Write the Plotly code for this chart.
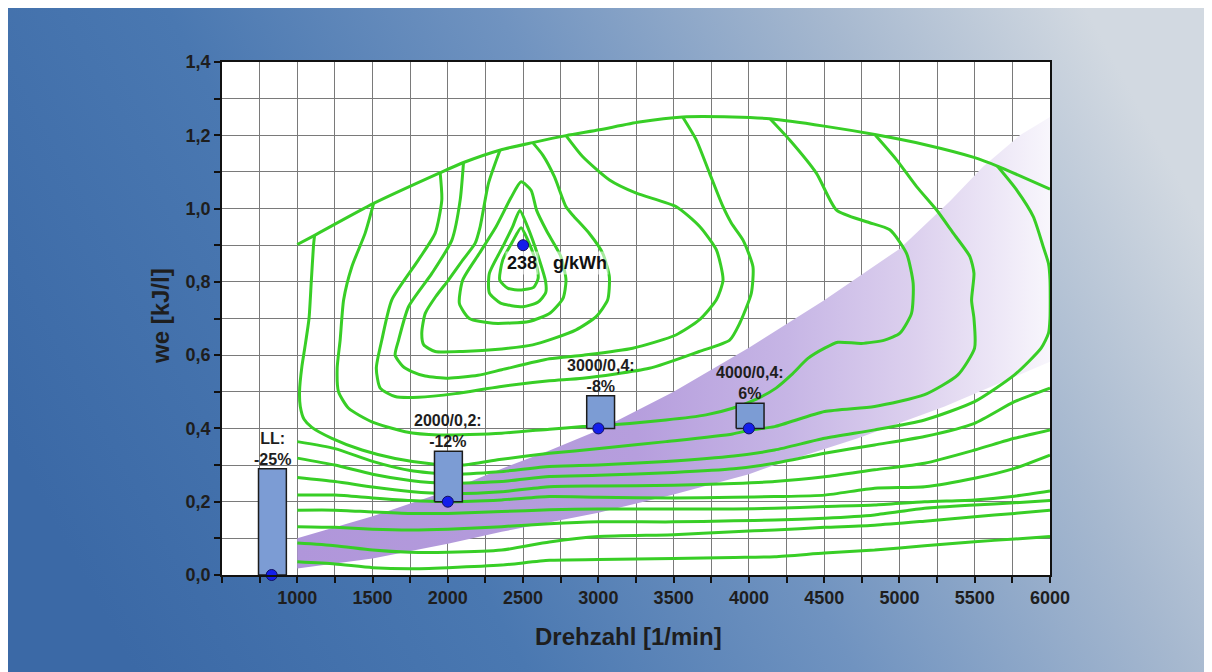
import base64
import plotly.graph_objects as go

# ---------------- data (engine map) ----------------
ENV_X = [1000, 1115, 1507, 1950, 2100, 2350, 2564, 2785, 3007, 3272, 3560, 3892, 4140, 4500, 4836, 5164, 5500, 5650, 6000]
ENV_Y = [0.902, 0.927, 1.014, 1.098, 1.125, 1.16, 1.18, 1.199, 1.215, 1.236, 1.25, 1.25, 1.245, 1.225, 1.202, 1.175, 1.139, 1.116, 1.053]

T1_X = [2487, 2530, 2580, 2600, 2570, 2490, 2400, 2345, 2365, 2430, 2487]
T1_Y = [0.948, 0.915, 0.86, 0.81, 0.785, 0.778, 0.782, 0.805, 0.86, 0.91, 0.948]
T2_X = [2478, 2530, 2600, 2650, 2650, 2600, 2500, 2350, 2276, 2276, 2365, 2430, 2478]
T2_Y = [0.995, 0.95, 0.87, 0.8, 0.77, 0.745, 0.732, 0.742, 0.77, 0.823, 0.896, 0.95, 0.995]
T3_X = [2487, 2553, 2590, 2655, 2750, 2785, 2765, 2680, 2540, 2300, 2143, 2077, 2099, 2210, 2321, 2420, 2487]
T3_Y = [1.073, 1.05, 0.995, 0.94, 0.87, 0.805, 0.755, 0.715, 0.692, 0.687, 0.70, 0.741, 0.805, 0.878, 0.951, 1.03, 1.073]

U1_X = [2347, 2270, 2215, 2181, 2100, 2004, 1920, 1850, 1827, 1840, 1916, 2100, 2358, 2564, 2700, 2852, 2985, 3062, 3073, 3029, 2940, 2830, 2785, 2708, 2631, 2564]
U1_Y = [1.16, 1.069, 0.951, 0.905, 0.86, 0.805, 0.76, 0.714, 0.66, 0.628, 0.61, 0.61, 0.617, 0.628, 0.645, 0.669, 0.705, 0.751, 0.814, 0.878, 0.932, 0.982, 1.005, 1.087, 1.146, 1.18]
U2_X = [2104, 2082, 2027, 1894, 1739, 1673, 1650, 1700, 1761, 1850, 2004, 2200, 2358, 2675, 2900, 3228, 3515, 3670, 3784, 3828, 3784, 3673, 3518, 3252, 3074, 2895, 2785]
U2_Y = [1.125, 1.023, 0.914, 0.823, 0.732, 0.641, 0.6, 0.57, 0.555, 0.543, 0.537, 0.545, 0.56, 0.59, 0.6, 0.619, 0.655, 0.696, 0.751, 0.805, 0.887, 0.951, 1.005, 1.042, 1.078, 1.142, 1.199]
U3_X = [1949, 1960, 1916, 1805, 1628, 1562, 1525, 1551, 1650, 1805, 2050, 2343, 2675, 2896, 3338, 3670, 3872, 3939, 4016, 4027, 3961, 3884, 3828, 3739, 3651, 3560]
U3_Y = [1.098, 1.023, 0.933, 0.86, 0.751, 0.642, 0.564, 0.51, 0.487, 0.485, 0.495, 0.514, 0.53, 0.537, 0.564, 0.61, 0.641, 0.687, 0.769, 0.841, 0.914, 0.96, 1.005, 1.096, 1.187, 1.25]
U4_X = [1507, 1451, 1363, 1308, 1285, 1265, 1274, 1341, 1496, 1717, 1938, 2358, 2675, 2896, 3000, 3449, 3715, 3892, 4050, 4180, 4282, 4392, 4503, 4591, 4746, 4901, 5003, 5080, 5091, 5047, 4936, 4781, 4582, 4449, 4271, 4140]
U4_Y = [1.014, 0.933, 0.842, 0.751, 0.642, 0.564, 0.5, 0.455, 0.418, 0.391, 0.382, 0.387, 0.398, 0.405, 0.407, 0.423, 0.437, 0.455, 0.48, 0.51, 0.546, 0.591, 0.619, 0.635, 0.632, 0.641, 0.66, 0.714, 0.796, 0.878, 0.942, 0.964, 0.996, 1.096, 1.187, 1.245]
U5_X = [1115, 1108, 1093, 1078, 1050, 1031, 1015, 1020, 1045, 1097, 1230, 1430, 1650, 1900, 2100, 2343, 2675, 3007, 3449, 3892, 4000, 4171, 4503, 4835, 5167, 5388, 5499, 5495, 5479, 5495, 5468, 5357, 5247, 5114, 4981, 4836]
U5_Y = [0.927, 0.9, 0.8, 0.7, 0.62, 0.57, 0.5, 0.46, 0.425, 0.403, 0.373, 0.341, 0.318, 0.303, 0.300, 0.315, 0.332, 0.345, 0.364, 0.385, 0.395, 0.405, 0.446, 0.46, 0.492, 0.546, 0.619, 0.70, 0.75, 0.823, 0.869, 0.933, 0.996, 1.06, 1.133, 1.202]
U6_X = [1000, 1250, 1500, 1750, 2000, 2343, 2675, 3000, 3450, 3900, 4171, 4503, 4835, 5167, 5499, 5764, 5941, 5990, 6000, 6000, 5990, 5955, 5889, 5778, 5650]
U6_Y = [0.364, 0.345, 0.31, 0.285, 0.275, 0.282, 0.296, 0.30, 0.31, 0.325, 0.341, 0.373, 0.396, 0.423, 0.473, 0.546, 0.619, 0.66, 0.70, 0.805, 0.85, 0.896, 0.978, 1.051, 1.116]

LOW_X = [1000, 1250, 1500, 1750, 2000, 2358, 2675, 3000, 3500, 3900, 4171, 4503, 4835, 5167, 5499, 5764, 6000]
L2_Y = [0.319, 0.30, 0.275, 0.258, 0.25, 0.255, 0.269, 0.272, 0.28, 0.29, 0.305, 0.332, 0.355, 0.378, 0.414, 0.473, 0.51]
L3_Y = [0.266, 0.255, 0.24, 0.228, 0.222, 0.227, 0.241, 0.243, 0.245, 0.25, 0.255, 0.268, 0.287, 0.305, 0.341, 0.373, 0.396]
L4_Y = [0.218, 0.218, 0.21, 0.203, 0.2, 0.205, 0.214, 0.212, 0.21, 0.212, 0.214, 0.218, 0.237, 0.241, 0.264, 0.291, 0.327]
L5_Y = [0.177, 0.177, 0.172, 0.168, 0.168, 0.173, 0.178, 0.18, 0.18, 0.18, 0.182, 0.187, 0.191, 0.2, 0.205, 0.215, 0.229]
L6_Y = [0.132, 0.13, 0.125, 0.123, 0.125, 0.132, 0.14, 0.145, 0.145, 0.148, 0.15, 0.155, 0.164, 0.182, 0.191, 0.197, 0.203]
L7_Y = [0.087, 0.08, 0.068, 0.062, 0.062, 0.068, 0.09, 0.105, 0.11, 0.118, 0.123, 0.13, 0.136, 0.147, 0.159, 0.168, 0.177]
L8_Y = [0.036, 0.03, 0.02, 0.017, 0.02, 0.027, 0.04, 0.042, 0.045, 0.048, 0.05, 0.06, 0.068, 0.08, 0.091, 0.098, 0.105]

# purple operating band
BAND_UP_X = [1000, 1500, 2000, 2358, 2675, 3000, 3500, 4000, 4500, 5000, 5335, 5555, 5800, 6000]
BAND_UP_Y = [0.10, 0.16, 0.23, 0.29, 0.34, 0.395, 0.50, 0.62, 0.75, 0.89, 1.02, 1.114, 1.2, 1.25]
BAND_LO_X = [1000, 1500, 2000, 2358, 3000, 3500, 4000, 4171, 4724, 5300, 6000]
BAND_LO_Y = [0.018, 0.045, 0.085, 0.118, 0.17, 0.22, 0.275, 0.3, 0.373, 0.46, 0.582]

# bars (savings) and measuring points
BAR_X = [835, 2004, 3015, 4008]
BAR_BASE = [0.0, 0.2, 0.4, 0.4]
BAR_TOP = [0.29, 0.338, 0.489, 0.469]
BAR_LABEL_1 = ["LL:", "2000/0,2:", "3000/0,4:", "4000/0,4:"]
BAR_LABEL_2 = ["-25%", "-12%", "-8%", "6%"]
DOT_X = [830, 2000, 3000, 4000, 2500]
DOT_Y = [0.0, 0.2, 0.4, 0.4, 0.9]

X_TICKS = list(range(500, 6001, 250))
X_LABELS = [str(v) if (v >= 1000 and v % 500 == 0) else "" for v in X_TICKS]
Y_TICKS = [i / 10 for i in range(0, 15)]
Y_LABELS = [("%.1f" % v).replace(".", ",") if i % 2 == 0 else "" for i, v in enumerate(Y_TICKS)]

# ---------------- figure ----------------
OFF = 8                      # page margin of the html body
W, H = 1212 - OFF, 672 - OFF
ML, MT = 222 - OFF, 62 - OFF
PW, PH = 828, 513
MR, MB = W - ML - PW, H - MT - PH


def px_x(p):                 # page pixel -> paper x
    return (p - OFF - ML) / PW


def px_y(p):                 # page pixel -> paper y
    return (MT + PH - (p - OFF)) / PH


GREEN = "rgb(56,206,38)"
FONT = "Liberation Sans, Arial, Helvetica, sans-serif"
TXT = "#1e1e1e"

fig = go.Figure()

fig.add_trace(go.Scatter(
    x=BAND_UP_X + BAND_LO_X[::-1], y=BAND_UP_Y + BAND_LO_Y[::-1],
    mode="lines", fill="toself", line=dict(width=0),
    fillgradient=dict(type="horizontal", start=1000, stop=6000,
                      colorscale=[[0, "rgb(176,150,218)"], [0.45, "rgb(182,158,221)"],
                                  [0.65, "rgb(198,181,229)"], [0.82, "rgb(220,208,238)"],
                                  [1, "rgb(248,246,252)"]]),
    hoverinfo="skip", showlegend=False))

lines = [(ENV_X, ENV_Y), (T1_X, T1_Y), (T2_X, T2_Y), (T3_X, T3_Y),
         (U1_X, U1_Y), (U2_X, U2_Y), (U3_X, U3_Y), (U4_X, U4_Y), (U5_X, U5_Y), (U6_X, U6_Y)]
for ly in [L2_Y, L3_Y, L4_Y, L5_Y, L6_Y, L7_Y, L8_Y]:
    lines.append((LOW_X, ly))
for lx, ly in lines:
    fig.add_trace(go.Scatter(x=lx, y=ly, mode="lines",
                             line=dict(color=GREEN, width=3, shape="spline", smoothing=0.6),
                             hoverinfo="skip", showlegend=False))

BW = 185
for bx, b0, b1 in zip(BAR_X, BAR_BASE, BAR_TOP):
    fig.add_trace(go.Scatter(
        x=[bx - BW / 2, bx + BW / 2, bx + BW / 2, bx - BW / 2, bx - BW / 2],
        y=[b0, b0, b1, b1, b0], mode="lines", fill="toself",
        fillcolor="rgb(124,156,212)", line=dict(color="#1c1c1c", width=1.5),
        hoverinfo="skip", showlegend=False))

fig.add_trace(go.Scatter(x=DOT_X, y=DOT_Y, mode="markers",
                         marker=dict(size=11, color="rgb(20,30,235)", line=dict(color="#101060", width=1)),
                         cliponaxis=False, hoverinfo="skip", showlegend=False))

ann = []
for bx, b1, t1, t2 in zip(BAR_X, BAR_TOP, BAR_LABEL_1, BAR_LABEL_2):
    ann.append(dict(x=bx, y=b1, text=t1 + "<br>" + t2, showarrow=False, yanchor="bottom", yshift=-1,
                    font=dict(family=FONT, size=16, color=TXT, weight="bold")))
halo = "rgba(255,255,255,0.55)"
ann.append(dict(x=2490, y=0.851, text="238", showarrow=False, bgcolor=halo,
                font=dict(family=FONT, size=18, color="#111", weight="bold")))
ann.append(dict(x=2875, y=0.851, text="g/kWh", showarrow=False, bgcolor=halo,
                font=dict(family=FONT, size=18, color="#111", weight="bold")))
ann.append(dict(xref="paper", yref="paper", x=px_x(628), y=px_y(636),
                text="Drehzahl [1/min]", showarrow=False, xanchor="center", yanchor="middle",
                font=dict(family=FONT, size=24, color=TXT, weight="bold")))
ann.append(dict(xref="paper", yref="paper", x=px_x(160), y=px_y(316),
                text="we [kJ/l]", showarrow=False, textangle=-90, xanchor="center", yanchor="middle",
                font=dict(family=FONT, size=24, color=TXT, weight="bold")))

# background: gradient with white plot area, as an SVG image covering the figure
svg = (
    f'<svg xmlns="http://www.w3.org/2000/svg" width="{W}" height="{H}" viewBox="0 0 {W} {H}" preserveAspectRatio="none">'
    '<defs><linearGradient id="g" x1="0" y1="0.65" x2="1" y2="0.35">'
    '<stop offset="0" stop-color="#3b69a6"/><stop offset="0.3" stop-color="#4a78b1"/>'
    '<stop offset="0.55" stop-color="#7093c0"/><stop offset="0.8" stop-color="#a6b8cf"/>'
    '<stop offset="1" stop-color="#d2d9e1"/></linearGradient></defs>'
    f'<rect x="0" y="0" width="{W}" height="{H}" fill="url(#g)"/>'
    f'<rect x="{ML}" y="{MT}" width="{PW}" height="{PH}" fill="#ffffff"/>'
    '</svg>')
src = "data:image/svg+xml;base64," + base64.b64encode(svg.encode()).decode()

axis_common = dict(ticks="outside", ticklen=6, tickwidth=1.5, tickcolor="#111",
                   showgrid=True, gridcolor="#7a7a7a", gridwidth=1.3, zeroline=False,
                   showline=True, linecolor="#111", linewidth=1.6, mirror=True,
                   tickfont=dict(family=FONT, size=18, color=TXT, weight="bold"))

fig.update_layout(
    width=W, height=H, margin=dict(l=ML, r=MR, t=MT, b=MB),
    paper_bgcolor="white", plot_bgcolor="white",
    images=[dict(source=src, xref="paper", yref="paper", x=-ML / PW, y=(MT + PH) / PH,
                 sizex=W / PW, sizey=H / PH, xanchor="left", yanchor="top",
                 sizing="stretch", layer="below")],
    annotations=ann,
    xaxis=dict(range=[500, 6000], tickmode="array", tickvals=X_TICKS, ticktext=X_LABELS, **axis_common),
    yaxis=dict(range=[0, 1.4], tickmode="array", tickvals=Y_TICKS, ticktext=Y_LABELS, **axis_common),
)

fig.write_html("out.html")
